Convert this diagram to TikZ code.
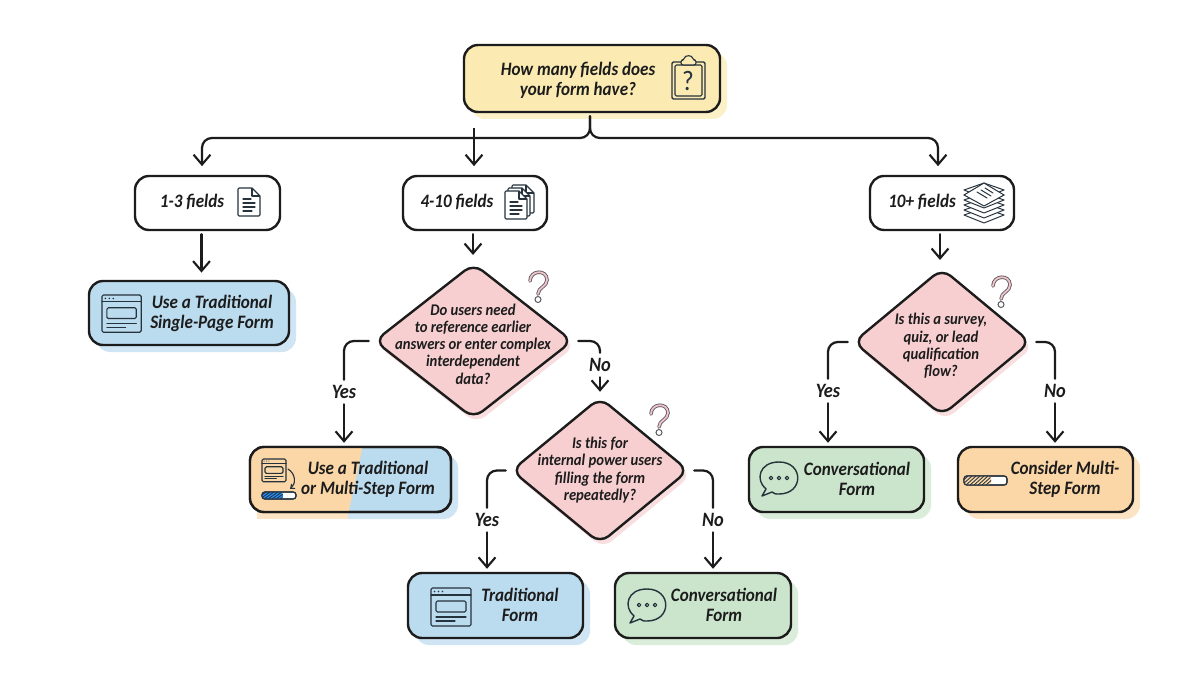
\documentclass[tikz,border=0pt]{standalone}
\usepackage{fontspec}
\setmainfont{Carlito}[FakeStretch=0.9]
\usetikzlibrary{arrows.meta,shapes.geometric,patterns}
\def\px{0.025cm}
\definecolor{ink}{HTML}{1C1C1C}
\definecolor{icon}{HTML}{26323C}
\definecolor{yel}{HTML}{FBEBB2}\definecolor{yelS}{HTML}{FBF0C6}
\definecolor{blu}{HTML}{BBDBEF}\definecolor{bluS}{HTML}{CFE5F3}
\definecolor{pnk}{HTML}{F7CFD0}\definecolor{pnkS}{HTML}{F9DEDF}
\definecolor{grn}{HTML}{CBE5CC}\definecolor{grnS}{HTML}{DAEDDB}
\definecolor{org}{HTML}{FBD7A8}\definecolor{orgS}{HTML}{FCE3C4}
\definecolor{qm}{HTML}{F0C4C8}
\tikzset{
  line/.style={draw=ink,line width=1.6pt,line cap=round,rounded corners=7pt},
  arrowline/.style={line,-{Straight Barb[length=7pt,width=12pt,line width=1.5pt]}},
  box/.style={rectangle,draw=ink,line width=1.7pt,rounded corners=10pt,inner sep=0pt,outer sep=3pt},
  dec/.style={diamond,draw=ink,line width=1.7pt,rounded corners=8pt,inner sep=0pt,outer sep=3pt,fill=pnk},
  big/.style={font=\fontsize{13.5}{14.2}\selectfont\bfseries\itshape,text=ink,align=center,inner sep=0pt},
  small/.style={font=\fontsize{11.6}{12.3}\selectfont\bfseries\itshape,text=ink,align=center,inner sep=0pt},
  edge/.style={font=\fontsize{14.5}{15}\selectfont\bfseries\itshape,text=ink,inner sep=2pt,outer sep=2pt},
  ic/.style={draw=icon,line width=0.8pt,line join=round,line cap=round},
}
% name x1 y1 x2 y2 fill shadow
\newcommand\mybox[7]{%
  \fill[#7,rounded corners=10pt] ({#2+7},{#3+7}) rectangle ({#4+7},{#5+7});
  \node[box,fill=#6,minimum width={(#4-#2)*\px},minimum height={(#5-#3)*\px}] (#1) at ({(#2+#4)/2},{(#3+#5)/2}) {};}
% name cx cy w h
\newcommand\mydec[5]{%
  \node[dec,draw=none,fill=pnkS,minimum width={#4*\px},minimum height={#5*\px}] (#1s) at ({#2+3},{#3+5}) {};
  \node[dec,minimum width={#4*\px},minimum height={#5*\px}] (#1) at (#2,#3) {};}
\newcommand\qmark[2]{\begin{scope}[shift={(#1,#2)}]
  \draw[draw=icon!75!qm,line width=0.6pt,double=qm,double distance=1.3pt,line cap=round]
    (-8,-6) .. controls (-8,-17) and (9,-18) .. (9,-7) .. controls (9,0) and (0,0) .. (0,7);
  \draw[icon!75!qm,line width=0.7pt,fill=white] (0,12.5) circle (3);
\end{scope}}
\newcommand\iwindow[3]{\begin{scope}[shift={(#1,#2)},scale=#3]
  \draw[ic,rounded corners=1pt] (0,0) rectangle (40,38);
  \draw[ic] (0,7)--(40,7);
  \foreach \q in {3.5,7.5,11.5}\fill[icon] (\q,3.5) circle (0.9);
  \draw[ic,rounded corners=1pt] (5,13) rectangle (35,24);
  \draw[ic] (5,29)--(35,29) (5,33)--(24,33);
\end{scope}}
\newcommand\ichat[2]{\begin{scope}[shift={(#1,#2)}]
  \draw[ic,line width=1pt] (-13,11) .. controls (-24,2) and (-20,-16) .. (0,-16)
     .. controls (25,-16) and (25,16) .. (0,16) .. controls (-4,16) .. (-7,14) -- (-17,18) -- cycle;
  \foreach \q in {-8,0,8}\draw[ic] (\q,0) circle (1.8);
\end{scope}}
\newcommand\idoc[2]{\begin{scope}[shift={(#1,#2)}]
  \draw[ic,fill=white,rounded corners=0.8pt] (0,0) -- (14,0) -- (22,8) -- (22,28) -- (0,28) -- cycle;
  \draw[ic] (14,0)--(14,8)--(22,8);
  \draw[ic] (5,11)--(13,11) (5,15)--(17,15) (5,19)--(17,19) (5,23)--(14,23);
\end{scope}}
\newcommand\ibar[6]{% x1 y1 x2 y2 xh colour
  \draw[ic,fill=white,rounded corners=2pt] (#1,#2) rectangle (#3,#4);
  \fill[#6,rounded corners=2pt] (#1,#2) rectangle (#5,#4);
  \begin{scope}
    \clip[rounded corners=2pt] (#1,#2) rectangle (#5,#4);
    \foreach \q in {0,4,...,40}\draw[icon,line width=0.6pt] ({#1+\q-10},#4) -- ({#1+\q},#2);
  \end{scope}
  \draw[ic,rounded corners=2pt] (#1,#2) rectangle (#3,#4);}
\begin{document}
\begin{tikzpicture}[x=0.025cm,y=-0.025cm]
\useasboundingbox (0,0) rectangle (1200,675);
\fill[white] (0,0) rectangle (1200,675);
% boxes
\mybox{root}{464}{45}{720}{112}{yel}{yelS}
\node[box,fill=white,minimum width={145*\px},minimum height={54*\px}] (t1) at (207.5,203) {};
\node[box,fill=white,minimum width={144*\px},minimum height={54*\px}] (t2) at (475,203) {};
\node[box,fill=white,minimum width={144*\px},minimum height={54*\px}] (t3) at (942,203) {};
\mybox{r1}{89}{281}{289}{345}{blu}{bluS}
% mixed box
\fill[bluS,rounded corners=10pt] (257,454) rectangle (458,519);
\fill[orgS] (257,505) rectangle (348,519);
\node[box,fill=blu,minimum width={201*\px},minimum height={65*\px}] (r2) at (350.5,479.5) {};
\begin{scope}
  \clip[rounded corners=10pt] (250,447) rectangle (451,512);
  \fill[org] (245,440) -- (364,440) -- (347,520) -- (245,520) -- cycle;
\end{scope}
\draw[ink,line width=1.7pt,rounded corners=10pt] (250,447) rectangle (451,512);
\mybox{r3}{408}{573}{583}{638}{blu}{bluS}
\mybox{r4}{615}{573}{791}{638}{grn}{grnS}
\mybox{r5}{749}{447}{924}{512}{grn}{grnS}
\mybox{r6}{958}{447}{1133}{512}{org}{orgS}
% diamonds
\mydec{d1}{473.5}{341}{201}{158}
\mydec{d2}{600}{470.5}{180}{149}
\mydec{d3}{942}{342}{180}{150}
% texts
\node[big] (troot) at (578,80) {How many fields does\\your form have?};
\node[big] (tt1) at (192,202) {1-3 fields};
\node[big] (tt2) at (457,202) {4-10 fields};
\node[big] (tt3) at (922,202) {10+ fields};
\node[big] (tr1) at (212,313) {Use a Traditional\\Single-Page Form};
\node[big] (tr2) at (368,479) {Use a Traditional\\or Multi-Step Form};
\node[big] (tr3) at (520,605) {Traditional\\Form};
\node[big] (tr4) at (724,605) {Conversational\\Form};
\node[big] (tr5) at (857,479) {Conversational\\Form};
\node[big] (tr6) at (1065,479) {Consider Multi-\\Step Form};
\node[small] (td1) at (473,344) {Do users need\\to reference earlier\\answers or enter complex\\interdependent\\data?};
\node[small] (td2) at (600,470) {Is this for\\internal power users\\filling the form\\repeatedly?};
\node[small] (td3) at (941,346) {Is this a survey,\\quiz, or lead\\qualification\\flow?};
% edge labels
\node[edge] (y1) at (344,392) {Yes};
\node[edge] (n1) at (600,365) {No};
\node[edge] (y2) at (487,520) {Yes};
\node[edge] (n2) at (713,520) {No};
\node[edge] (y3) at (828,391) {Yes};
\node[edge] (n3) at (1055,391) {No};
% connectors
\coordinate (bus) at (590,138);
\draw[arrowline,shorten >=4pt] (bus |- root.south) -- (bus) -- (202,138) -- ([xshift=-5.5*\px]t1.north);
\draw[arrowline,shorten >=4pt] (474,138) -- ([xshift=-1*\px]t2.north |- bus) -- ([xshift=-1*\px]t2.north);
\draw[arrowline,shorten >=4pt] (bus |- root.south) -- (bus) -- ([xshift=-4*\px]t3.north |- bus) -- ([xshift=-4*\px]t3.north);
\draw[arrowline,shorten >=3pt] ([xshift=-6*\px]t1.south) -- ([xshift=-6*\px]t1.south |- r1.north);
\draw[arrowline,shorten >=2pt] ([xshift=-2*\px]t2.south) -- ([xshift=-2*\px]t2.south |- d1.north);
\draw[arrowline,shorten >=2pt] ([xshift=-2*\px]t3.south) -- ([xshift=-2*\px]t3.south |- d3.north);
\draw[line] (d1.west) -| (y1.north);
\draw[arrowline] (y1.south) -- (y1.south |- r2.north);
\draw[line] (d1.east) -| (n1.north);
\draw[arrowline] (n1.south) -- (n1.south |- d2.north);
\draw[line] (d2.west) -| (y2.north);
\draw[arrowline] (y2.south) -- (y2.south |- r3.north);
\draw[line] (d2.east) -| (n2.north);
\draw[arrowline] (n2.south) -- (n2.south |- r4.north);
\draw[line] (d3.west) -| (y3.north);
\draw[arrowline] (y3.south) -- (y3.south |- r5.north);
\draw[line] (d3.east) -| (n3.north);
\draw[arrowline] (n3.south) -- (n3.south |- r6.north);
% question marks
\qmark{538}{287}\qmark{659}{420}\qmark{1001}{292}
% clipboard
\draw[ic,rounded corners=1pt,line width=1pt] (672,62) rectangle (705,99);
\draw[ic,rounded corners=1pt] (675,65) rectangle (702,96);
\draw[ic,fill=yel,rounded corners=1.5pt] (681,60) -- (684,60) .. controls (685,55) and (692,55) .. (693,60) -- (696,60) -- (696,65) -- (681,65) -- cycle;
\node[font=\fontsize{20}{20}\selectfont,text=icon,inner sep=0pt] (cq) at (688,81) {?};
% icons
\idoc{238}{188}
\idoc{512}{185}\idoc{508}{188}\idoc{505}{191}
\begin{scope}[shift={(984,0)}]
  \foreach \q in {27,22,17,12,7,2}{
    \draw[ic,fill=white,line width=0.7pt] (-20,{190+\q-2}) -- (0,{190+\q-9}) -- (20,{190+\q-2}) -- (0,{190+\q+6}) -- cycle;}
  \draw[ic,fill=white,line width=0.7pt] (-20,195) -- (0,183) -- (20,195) -- (0,206) -- cycle;
  \draw[ic,line width=0.7pt] (-7,192) -- (3,198) (-3,190) -- (7,196) (1,188) -- (9,193);
\end{scope}
\iwindow{102}{295}{0.98}
\iwindow{431}{588}{1}
\iwindow{262}{459}{0.6}
\draw[ic,-{Straight Barb[length=2.5pt,width=4pt]}] (288,469) .. controls (296,474) and (296,484) .. (290,489);
\ibar{262}{492}{296}{499}{283}{blu!30!blue!60!cyan}
\ibar{964}{476}{1007}{485}{991}{org}
\ichat{779}{478}
\ichat{647}{605}
\end{tikzpicture}
\end{document}
